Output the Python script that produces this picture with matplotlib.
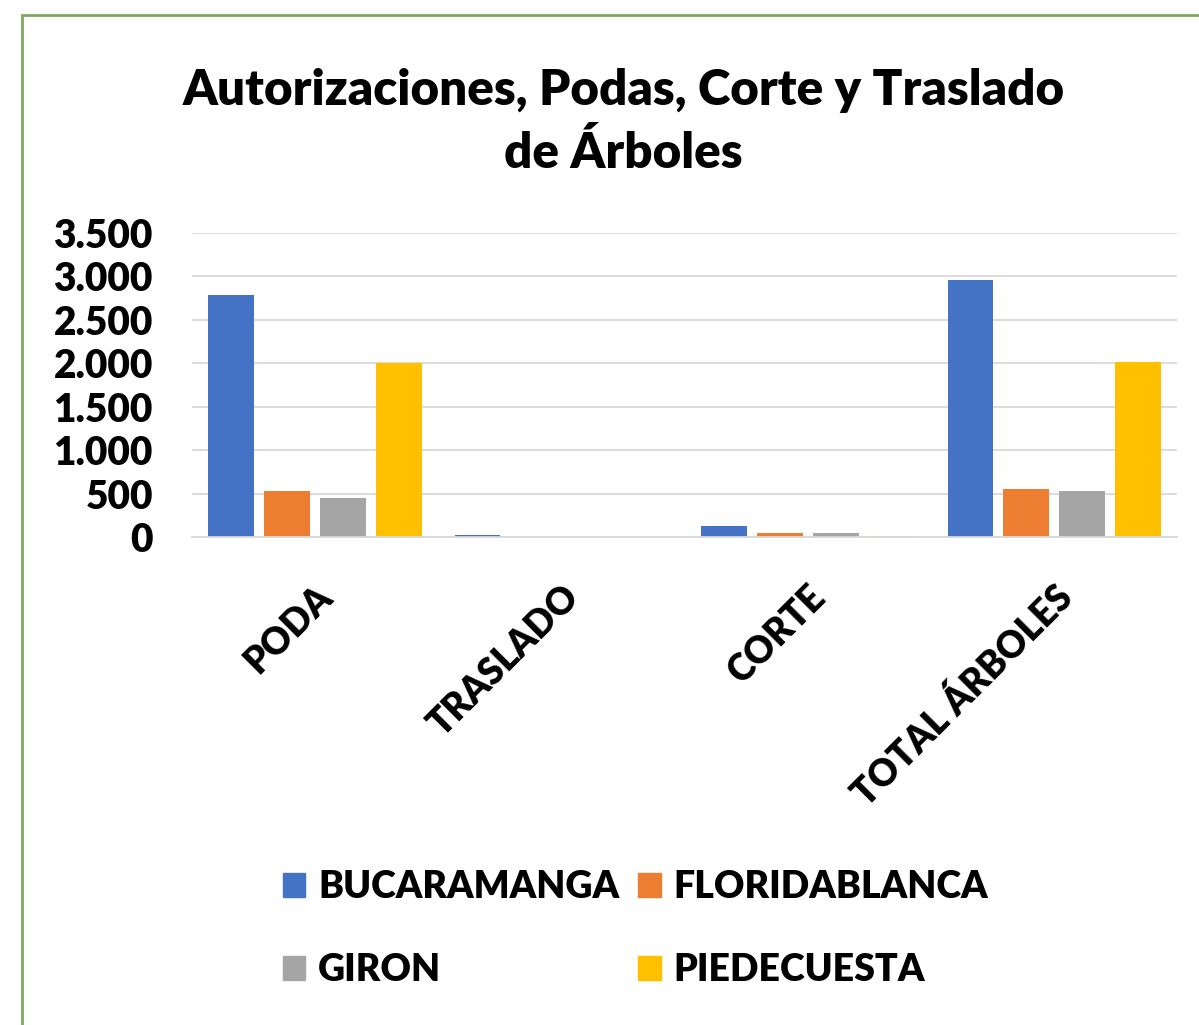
import matplotlib
matplotlib.use("Agg")
import numpy as np
from matplotlib import pyplot as plt
from matplotlib.patches import Rectangle, Patch
from matplotlib.ticker import FuncFormatter

# Values
categories = ["PODA", "TRASLADO", "CORTE", "TOTAL ÁRBOLES"]
municipios = ["BUCARAMANGA", "FLORIDABLANCA", "GIRON", "PIEDECUESTA"]
bucaramanga = [2780, 20, 130, 2960]
floridablanca = [525, 3, 50, 555]
giron = [455, 5, 50, 535]
piedecuesta = [2000, 3, 12, 2015]
colors = ["#4472C4", "#ED7D31", "#A5A5A5", "#FFC000"]
yticks = [0, 500, 1000, 1500, 2000, 2500, 3000, 3500]

plt.rcParams["font.family"] = ["Lato", "DejaVu Sans"]
plt.rcParams["font.weight"] = "bold"

fig = plt.figure(figsize=(11.99, 10.25), dpi=100)
ax = fig.add_axes([0.16, 0.476, 0.822, 0.297])

series = [bucaramanga, floridablanca, giron, piedecuesta]
x = np.arange(len(categories))
width = 0.185
for i, (vals, col, name) in enumerate(zip(series, colors, municipios)):
    ax.bar(x + (i - 1.5) * 0.227, vals, width, color=col, label=name, zorder=2)

ax.set_xlim(-0.5, len(categories) - 0.5)
ax.set_ylim(0, 3500)
ax.set_yticks(yticks)
ax.yaxis.set_major_formatter(FuncFormatter(lambda v, p: f"{int(v):,}".replace(",", ".")))
ax.grid(axis="y", color="#D9D9D9", linewidth=1.3, zorder=0)
ax.set_axisbelow(True)
for s in ["top", "right", "left"]:
    ax.spines[s].set_visible(False)
ax.spines["bottom"].set_color("#D9D9D9")
ax.spines["bottom"].set_linewidth(1.3)
ax.tick_params(axis="both", length=0)
ax.tick_params(axis="y", labelsize=28, pad=28)
for lab in ax.get_yticklabels():
    lab.set_fontweight("heavy")
ax.set_xticks(x)
ax.set_xticklabels(categories, rotation=45, ha="right", rotation_mode="anchor",
                   fontsize=26.5, fontweight="heavy")
ax.tick_params(axis="x", pad=30)

fig.text(0.52, 0.912, "Autorizaciones, Podas, Corte y Traslado", ha="center",
         va="center", fontsize=35.5, fontweight="heavy")
fig.text(0.52, 0.851, "de Árboles", ha="center", va="center",
         fontsize=35.5, fontweight="heavy")

handles = [Patch(color=c) for c in colors]
order = [0, 2, 1, 3]
leg = fig.legend([handles[i] for i in order], [municipios[i] for i in order],
                 ncol=2, loc="center", bbox_to_anchor=(0.53, 0.094),
                 frameon=False, fontsize=27, handlelength=0.6, handleheight=0.6,
                 handletextpad=0.35, columnspacing=0.5, labelspacing=1.3)
for t in leg.get_texts():
    t.set_fontweight("heavy")

fig.patches.append(Rectangle((0.018, -0.02), 1.1, 1.005, transform=fig.transFigure,
                             fill=False, edgecolor="#7FA860", linewidth=2))

fig.savefig("out.png", dpi=100)
